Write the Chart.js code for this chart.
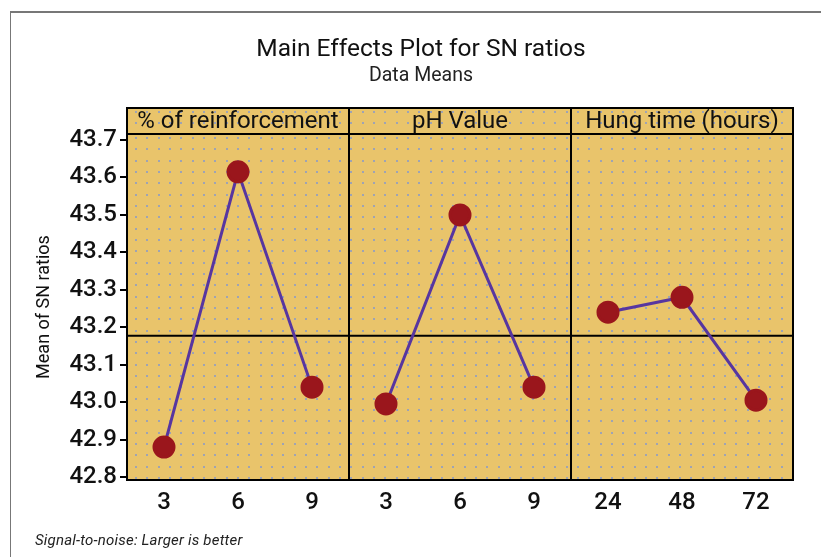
<!DOCTYPE html>
<html>
<head>
<meta charset="utf-8">
<script src="https://cdn.jsdelivr.net/npm/chart.js@4/dist/chart.umd.min.js"></script>
<style>
  body { margin: 0; background: #fff; }
  #wrap { position: relative; width: 821px; height: 557px; overflow: hidden; font-family: Roboto, sans-serif; }
  #mainChart { position: absolute; left: 0; top: 0; }
  #frame { position: absolute; left: 10px; top: 11px; width: 820px; height: 560px; border-left: 1px solid #777; border-top: 2px solid #777; }
  .txt { position: absolute; white-space: nowrap; color: #111; }
  #title { top: 33px; left: 0; width: 842px; text-align: center; font-size: 24.5px; }
  #subtitle { top: 63px; left: 0; width: 842px; text-align: center; font-size: 19.5px; color: #222; }
  #footnote { top: 531px; left: 35px; font-size: 15px; font-style: italic; letter-spacing: 0.2px; color: #222; }
</style>
</head>
<body>
<div id="wrap">
  <div id="frame"></div>
  <canvas id="mainChart" width="821" height="557"></canvas>
  <div class="txt" id="title">Main Effects Plot for SN ratios</div>
  <div class="txt" id="subtitle">Data Means</div>
  <div class="txt" id="footnote">Signal-to-noise: Larger is better</div>
</div>
<script>
// factor names and their levels
const factorNames = ['% of reinforcement', 'pH Value', 'Hung time (hours)'];
const reinforcementLevels = ['3', '6', '9'];
const phLevels = ['3', '6', '9'];
const hungLevels = ['24', '48', '72'];

// mean of SN ratios per level
const reinforcementMeans = [42.88, 43.615, 43.04];
const phMeans = [42.995, 43.50, 43.04];
const hungMeans = [43.24, 43.28, 43.005];

// y axis
const yMin = 42.792;
const yMax = 43.716;
const yStep = 0.1;

const allLabels = [...reinforcementLevels, ...phLevels, ...hungLevels];
const allMeans = [...reinforcementMeans, ...phMeans, ...hungMeans];
const grandMean = allMeans.reduce((a, b) => a + b, 0) / allMeans.length;

const BG = '#e9c46b';
const DOT = '#9ea3b4';

function padSeries(values, panel) {
    const out = new Array(allLabels.length).fill(null);
    values.forEach((v, i) => { out[panel * 3 + i] = v; });
    return out;
}

function dots(ctx, left, top, right, bottom) {
    ctx.fillStyle = DOT;
    const step = 11.33;
    for (let y = top + 4; y < bottom - 1; y += step) {
        for (let x = left + 9; x < right - 1; x += step) {
            ctx.fillRect(Math.round(x) - 1, Math.round(y) - 1, 2, 2);
        }
    }
}

const headerHeight = 26;

const panelPlugin = {
    id: 'panels',
    beforeDraw(chart) {
        const { ctx, chartArea } = chart;
        const { left, right, top, bottom } = chartArea;
        ctx.save();
        ctx.fillStyle = BG;
        ctx.fillRect(left, top - headerHeight, right - left, bottom - top + headerHeight);
        dots(ctx, left, top - headerHeight, right, top);
        dots(ctx, left, top, right, bottom);
        ctx.restore();
    },
    beforeDatasetsDraw(chart) {
        const { ctx, chartArea, scales } = chart;
        const { left, right, top, bottom } = chartArea;
        const x = scales.x;
        const slot = x.getPixelForValue(1) - x.getPixelForValue(0);
        ctx.save();
        ctx.strokeStyle = '#000';
        ctx.lineWidth = 2;
        // grand mean reference line
        const gy = scales.y.getPixelForValue(grandMean);
        ctx.beginPath();
        ctx.moveTo(left, gy);
        ctx.lineTo(right, gy);
        ctx.stroke();
        // frame and header strip
        ctx.strokeRect(left, top - headerHeight, right - left, bottom - top + headerHeight);
        ctx.beginPath();
        ctx.moveTo(left, top);
        ctx.lineTo(right, top);
        for (let p = 1; p < factorNames.length; p++) {
            const px = x.getPixelForValue(p * 3) - slot / 2;
            ctx.moveTo(px, top - headerHeight);
            ctx.lineTo(px, bottom);
        }
        ctx.stroke();
        // header labels
        ctx.fillStyle = '#111';
        ctx.font = '24px Roboto, sans-serif';
        ctx.textAlign = 'center';
        ctx.textBaseline = 'middle';
        factorNames.forEach((name, p) => {
            const cx = x.getPixelForValue(p * 3 + 1);
            ctx.fillText(name, cx, top - headerHeight / 2 + 1);
        });
        ctx.restore();
    }
};

function series(values, panel) {
    return {
        data: padSeries(values, panel),
        borderColor: '#5736a0',
        borderWidth: 3,
        pointBackgroundColor: '#9a161c',
        pointBorderColor: '#9a161c',
        pointRadius: 10,
        pointHoverRadius: 10,
        spanGaps: false,
        tension: 0
    };
}

const ctx = document.getElementById('mainChart').getContext('2d');
new Chart(ctx, {
    type: 'line',
    data: {
        labels: allLabels,
        datasets: [
            series(reinforcementMeans, 0),
            series(phMeans, 1),
            series(hungMeans, 2)
        ]
    },
    options: {
        responsive: false,
        animation: false,
        layout: { padding: { top: 134, right: 28, left: 0, bottom: 0 } },
        plugins: {
            legend: { display: false },
            tooltip: { enabled: false }
        },
        scales: {
            x: {
                type: 'category',
                offset: true,
                grid: { display: false },
                border: { display: false },
                ticks: {
                    color: '#111',
                    font: { family: 'Roboto', size: 24, weight: '500' },
                    padding: 1,
                    autoSkip: false,
                    maxRotation: 0
                },
                afterFit(scale) { scale.height = 77; }
            },
            y: {
                min: yMin,
                max: yMax,
                grid: {
                    drawOnChartArea: false,
                    drawTicks: true,
                    tickLength: 7,
                    color: '#000',
                    lineWidth: 2
                },
                border: { display: false },
                ticks: {
                    stepSize: yStep,
                    includeBounds: false,
                    color: '#111',
                    padding: 3,
                    font: { family: 'Roboto', size: 24, weight: '500' },
                    callback: v => Number(v).toFixed(1)
                },
                title: {
                    display: true,
                    text: 'Mean of SN ratios',
                    color: '#111',
                    font: { family: 'Roboto', size: 18 },
                    padding: { top: 34, bottom: 0 }
                },
                afterFit(scale) { scale.width = 127; }
            }
        }
    },
    plugins: [panelPlugin]
});
</script>
</body>
</html>
